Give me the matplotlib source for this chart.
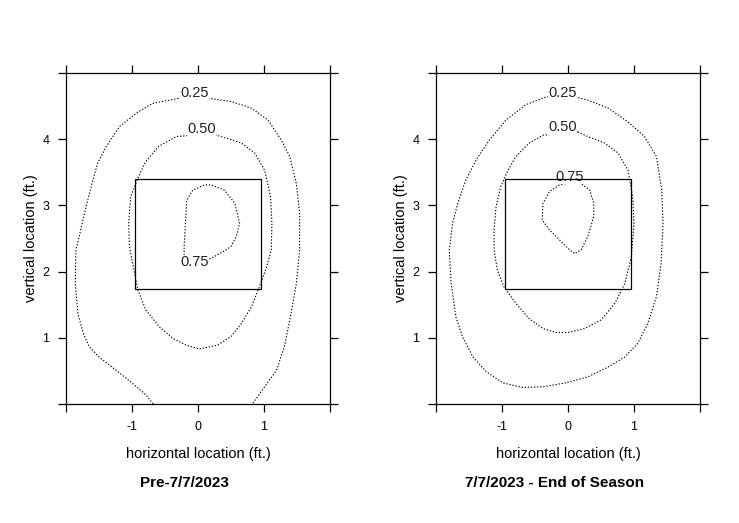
import matplotlib
matplotlib.use("Agg")
import matplotlib.pyplot as plt
from matplotlib.patches import Rectangle

plt.rcParams['font.family'] = ['Liberation Sans', 'DejaVu Sans']

# strike zone (ft.)
zone_x = [-0.95, 0.95]
zone_y = [1.74, 3.40]

# contour lines (x, y in ft.)
pre_levels = ["0.25", "0.50", "0.75"]
pre_025_x = [-0.68, -0.79, -0.99, -1.24, -1.50, -1.65, -1.74, -1.82, -1.86, -1.85, -1.80,
             -1.72, -1.62, -1.52, -1.39, -1.19, -0.94, -0.69, -0.28, 0.00, 0.50, 0.81,
             1.06, 1.26, 1.39, 1.49, 1.54, 1.54, 1.49, 1.41, 1.31, 1.19, 1.01, 0.83]
pre_025_y = [0.00, 0.14, 0.31, 0.51, 0.71, 0.87, 1.07, 1.37, 1.82, 2.33, 2.53,
             2.88, 3.28, 3.64, 3.89, 4.19, 4.39, 4.54, 4.62, 4.64, 4.57, 4.47,
             4.29, 3.99, 3.74, 3.33, 2.88, 2.33, 1.82, 1.37, 0.87, 0.51, 0.26, 0.01]
pre_050_x = [0.03, -0.33, -0.60, -0.80, -0.91, -1.02, -1.05, -1.04, -0.97, -0.91, -0.79,
             -0.59, -0.38, -0.18, 0.02, 0.30, 0.50, 0.66, 0.81, 0.93, 1.04, 1.11,
             1.12, 1.10, 1.01, 0.86, 0.66, 0.45, 0.28, 0.03]
pre_050_y = [4.07, 4.04, 3.89, 3.65, 3.41, 3.13, 2.73, 2.38, 2.02, 1.72, 1.42,
             1.17, 0.99, 0.89, 0.83, 0.89, 1.02, 1.22, 1.47, 1.77, 2.07, 2.33,
             2.73, 3.13, 3.53, 3.79, 3.94, 4.01, 4.06, 4.07]
pre_075_x = [-0.21, -0.21, -0.19, -0.17, -0.08, 0.10, 0.20, 0.40, 0.56, 0.63, 0.58,
             0.50, 0.43, 0.20, 0.00, -0.21]
pre_075_y = [2.20, 2.38, 2.73, 3.08, 3.23, 3.31, 3.31, 3.23, 3.03, 2.73, 2.53,
             2.38, 2.33, 2.20, 2.15, 2.20]
pre_label_x = [-0.05, 0.05, -0.05]
pre_label_y = [4.70, 4.15, 2.14]

post_levels = ["0.25", "0.50", "0.75"]
post_025_x = [-0.03, -0.38, -0.69, -0.99, -1.24, -1.44, -1.60, -1.70, -1.77, -1.80, -1.79,
              -1.75, -1.67, -1.55, -1.39, -1.19, -0.94, -0.64, -0.33, 0.10, 0.30, 0.61,
              0.91, 1.16, 1.34, 1.42, 1.44, 1.41, 1.34, 1.21, 1.06, 0.86, 0.61, 0.30, -0.03]
post_025_y = [0.32, 0.26, 0.25, 0.32, 0.49, 0.71, 1.02, 1.32, 1.82, 2.33, 2.38,
              2.73, 3.03, 3.38, 3.69, 3.99, 4.29, 4.52, 4.64, 4.64, 4.59, 4.47,
              4.26, 4.04, 3.74, 3.23, 2.73, 2.12, 1.62, 1.22, 0.92, 0.71, 0.56, 0.41, 0.32]
post_050_x = [0.15, -0.38, -0.59, -0.79, -0.91, -1.02, -1.09, -1.12, -1.12, -1.07, -0.97,
              -0.79, -0.59, -0.38, -0.18, 0.00, 0.25, 0.50, 0.71, 0.86, 0.96, 1.00,
              0.98, 0.91, 0.76, 0.56, 0.30, 0.15]
post_050_y = [4.11, 4.06, 3.94, 3.74, 3.53, 3.28, 2.98, 2.63, 2.33, 2.02, 1.77,
              1.52, 1.29, 1.14, 1.08, 1.08, 1.14, 1.27, 1.52, 1.82, 2.22, 2.73,
              3.13, 3.53, 3.79, 3.94, 4.04, 4.11]
post_075_x = [0.10, -0.13, -0.28, -0.38, -0.39, -0.28, -0.13, 0.00, 0.10, 0.20, 0.30,
              0.39, 0.39, 0.33, 0.20, 0.10]
post_075_y = [3.36, 3.31, 3.21, 3.03, 2.78, 2.63, 2.48, 2.35, 2.27, 2.33, 2.53,
              2.83, 3.03, 3.23, 3.33, 3.36]
post_label_x = [-0.08, -0.08, 0.03]
post_label_y = [4.70, 4.18, 3.43]

titles = ["Pre-7/7/2023", "7/7/2023 - End of Season"]

fig = plt.figure(figsize=(7.39, 5.23), dpi=100)
ax1 = fig.add_axes([66 / 739, 119 / 523, 264 / 739, 331 / 523])
ax2 = fig.add_axes([436 / 739, 119 / 523, 264 / 739, 331 / 523])

panels = [
    (ax1, [(pre_025_x, pre_025_y), (pre_050_x, pre_050_y), (pre_075_x, pre_075_y)],
     pre_levels, pre_label_x, pre_label_y, titles[0]),
    (ax2, [(post_025_x, post_025_y), (post_050_x, post_050_y), (post_075_x, post_075_y)],
     post_levels, post_label_x, post_label_y, titles[1]),
]

for ax, lines, levels, lx, ly, title in panels:
    for xs, ys in lines:
        ax.plot(xs, ys, color='black', linestyle=(0, (1.2, 1.6)), linewidth=0.8,
                zorder=2)
    for lab, x, y in zip(levels, lx, ly):
        ax.text(x, y, lab, ha='center', va='center', fontsize=10.5, color='#222222',
                zorder=3, bbox=dict(facecolor='white', edgecolor='none', pad=0.3))
    ax.add_patch(Rectangle((zone_x[0], zone_y[0]), zone_x[1] - zone_x[0],
                           zone_y[1] - zone_y[0], fill=False, edgecolor='black',
                           linewidth=0.9, zorder=4))
    ax.set_xlim(-2, 2)
    ax.set_ylim(0, 5)
    ax.set_xticks([-2, -1, 0, 1, 2])
    ax.set_xticklabels(['', '-1', '0', '1', ''])
    ax.set_yticks([0, 1, 2, 3, 4, 5])
    ax.set_yticklabels(['', '1', '2', '3', '4', ''])
    ax.tick_params(direction='out', length=6, width=0.9, labelsize=9,
                   top=True, right=True, pad=6)
    for s in ax.spines.values():
        s.set_linewidth(0.9)
    ax.set_xlabel('horizontal location (ft.)', fontsize=10.5, labelpad=10)
    ax.set_ylabel('vertical location (ft.)', fontsize=10.5, labelpad=3)
    ax.text(0.45, -0.24, title, transform=ax.transAxes, ha='center', va='center',
            fontsize=11, fontweight='bold')

fig.savefig('out.png', dpi=100)
